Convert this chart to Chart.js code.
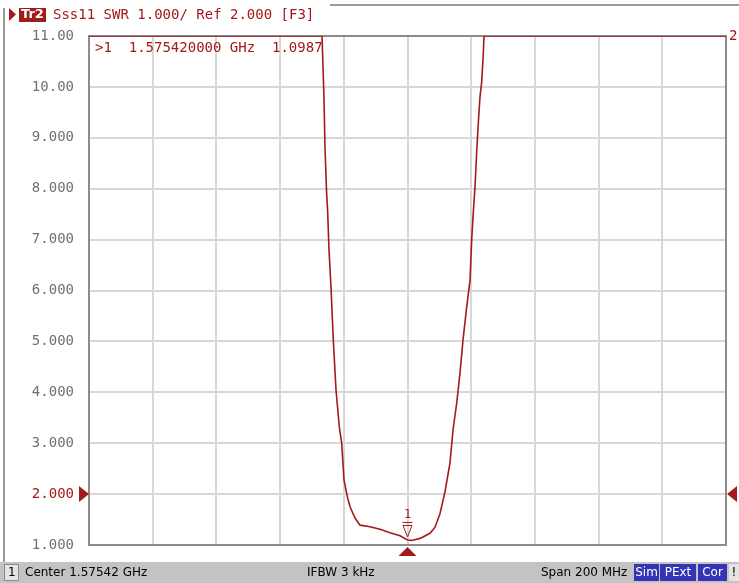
<!DOCTYPE html>
<html><head><meta charset="utf-8">
<script src="https://cdn.jsdelivr.net/npm/chart.js@4/dist/chart.umd.min.js"></script>
<style>html,body{margin:0;padding:0;background:#fff;overflow:hidden}#wrap{width:739px;height:583px;position:relative}</style>
</head><body><div id="wrap"><canvas id="c" width="739" height="583"></canvas></div>
<script>
// ---- data ----
const freqMHz = [1475.42, 1548.58, 1549.20, 1549.51, 1549.99, 1550.36, 1550.77, 1551.40, 1552.12, 1552.97,
  1554.01, 1554.76, 1555.48, 1556.52, 1557.37, 1558.94, 1560.51, 1563.65, 1566.79, 1569.93,
  1573.07, 1575.42, 1576.74, 1579.35, 1582.49, 1584.06, 1585.63, 1587.20, 1588.77, 1589.71,
  1590.87, 1591.91, 1592.85, 1594.01, 1595.05, 1595.57, 1596.09, 1596.62, 1597.15, 1597.65,
  1598.19, 1598.72, 1599.22, 1599.44, 1675.42];
const swr = [11, 11, 9.78, 8.82, 7.97, 7.54, 6.80, 6.07, 5.03, 4.05,
  3.32, 3.00, 2.28, 1.95, 1.75, 1.53, 1.39, 1.36, 1.31, 1.24,
  1.18, 1.0987, 1.09, 1.13, 1.23, 1.35, 1.62, 2.05, 2.62, 3.26,
  3.79, 4.38, 5.03, 5.68, 6.20, 6.99, 7.55, 8.04, 8.73, 9.29,
  9.81, 10.10, 10.66, 11, 11];
const yTickValues = [1, 2, 3, 4, 5, 6, 7, 8, 9, 10, 11];
const yTickLabels = ['1.000', '2.000', '3.000', '4.000', '5.000', '6.000', '7.000', '8.000', '9.000', '10.00', '11.00'];
const centerMHz = 1575.42;
const spanMHz = 200;
const divisions = 10;
const refLevel = 2.0;
const markerFreqMHz = 1575.42;
const markerSWR = 1.0987;
const headerText = 'Sss11 SWR 1.000/ Ref 2.000 [F3]';
const traceName = 'Tr2';
const markerText = '>1  1.575420000 GHz  1.0987';
const statusCenter = 'Center 1.57542 GHz';
const statusIFBW = 'IFBW 3 kHz';
const statusSpan = 'Span 200 MHz';
const statusFlags = ['Sim', 'PExt', 'Cor'];

const RED = '#a31a1a';
const MONO = '"DejaVu Sans Mono", monospace';
const SANS = '"DejaVu Sans", sans-serif';

const points = freqMHz.map((f, i) => ({ x: f - centerMHz, y: swr[i] }));

const decor = {
  id: 'decor',
  beforeDatasetsDraw(chart) {
    const { ctx, chartArea: a } = chart;
    ctx.save();
    ctx.strokeStyle = '#8c8c8c';
    ctx.lineWidth = 2;
    ctx.strokeRect(a.left, a.top, a.right - a.left, a.bottom - a.top);
    ctx.restore();
  },
  afterDraw(chart) {
    const { ctx, chartArea: a } = chart;
    const xs = chart.scales.x, ys = chart.scales.y;
    ctx.save();
    // outer frame lines
    ctx.fillStyle = '#9a9a9a';
    ctx.fillRect(3, 8, 2, 554);
    ctx.fillRect(330, 4, 409, 2);
    // header
    ctx.fillStyle = RED;
    ctx.beginPath(); ctx.moveTo(9, 8); ctx.lineTo(16, 14.5); ctx.lineTo(9, 21); ctx.closePath(); ctx.fill();
    ctx.fillRect(19, 8, 27, 14);
    ctx.font = 'bold 13px ' + SANS;
    ctx.fillStyle = '#fff';
    ctx.textBaseline = 'middle';
    ctx.textAlign = 'left';
    ctx.fillText(traceName, 21, 15);
    ctx.font = '14px ' + MONO;
    ctx.fillStyle = RED;
    ctx.fillText(headerText, 53, 15);
    // marker readout
    ctx.fillText(markerText, 95, 48);
    // trace number at right
    ctx.fillText('2', a.right + 3, a.top);
    // reference-level triangles
    const yr = ys.getPixelForValue(refLevel);
    ctx.beginPath(); ctx.moveTo(a.left - 10, yr - 8); ctx.lineTo(a.left, yr); ctx.lineTo(a.left - 10, yr + 8); ctx.closePath(); ctx.fill();
    ctx.beginPath(); ctx.moveTo(a.right + 11, yr - 8); ctx.lineTo(a.right + 1, yr); ctx.lineTo(a.right + 11, yr + 8); ctx.closePath(); ctx.fill();
    // marker stimulus triangle below axis
    const xm = xs.getPixelForValue(markerFreqMHz - centerMHz);
    ctx.beginPath(); ctx.moveTo(xm - 9, a.bottom + 11); ctx.lineTo(xm, a.bottom + 2); ctx.lineTo(xm + 9, a.bottom + 11); ctx.closePath(); ctx.fill();
    // marker symbol on the trace
    const ym = ys.getPixelForValue(markerSWR);
    ctx.strokeStyle = RED; ctx.lineWidth = 1;
    ctx.beginPath(); ctx.moveTo(xm - 4.5, ym - 14.5); ctx.lineTo(xm + 4.5, ym - 14.5); ctx.lineTo(xm, ym - 3); ctx.closePath(); ctx.stroke();
    ctx.beginPath(); ctx.moveTo(xm - 5, ym - 17.5); ctx.lineTo(xm + 5, ym - 17.5); ctx.stroke();
    ctx.font = '12px ' + MONO; ctx.textAlign = 'center';
    ctx.fillText('1', xm, ym - 25);
    // status bar
    ctx.fillStyle = '#c3c3c3';
    ctx.fillRect(0, 562, 739, 21);
    ctx.fillStyle = '#e4e4e4';
    ctx.fillRect(4, 564, 15, 17);
    ctx.strokeStyle = '#8a8a8a'; ctx.strokeRect(4.5, 564.5, 14, 16);
    ctx.fillStyle = '#000';
    ctx.font = '12px ' + SANS; ctx.textAlign = 'left'; ctx.textBaseline = 'middle';
    ctx.fillText('1', 8, 573);
    ctx.fillText(statusCenter, 25, 573);
    ctx.fillText(statusIFBW, 307, 573);
    ctx.fillText(statusSpan, 541, 573);
    const boxes = [[634, 25], [660, 36], [698, 29]];
    statusFlags.forEach((t, i) => {
      ctx.fillStyle = '#3434b4';
      ctx.fillRect(boxes[i][0], 564, boxes[i][1], 17);
      ctx.fillStyle = '#fff'; ctx.textAlign = 'center';
      ctx.fillText(t, boxes[i][0] + boxes[i][1] / 2, 573);
    });
    ctx.fillStyle = '#e4e4e4'; ctx.fillRect(729, 564, 10, 17);
    ctx.fillStyle = '#000'; ctx.fillText('!', 734, 573);
    ctx.restore();
  }
};

new Chart(document.getElementById('c'), {
  type: 'line',
  data: { datasets: [{ data: points, borderColor: RED, borderWidth: 1.6, pointRadius: 0, tension: 0, fill: false }] },
  options: {
    responsive: false, animation: false, devicePixelRatio: 1,
    layout: { padding: { left: 0, right: 13, top: 36, bottom: 38 } },
    plugins: { legend: { display: false }, tooltip: { enabled: false } },
    scales: {
      x: {
        type: 'linear', min: -spanMHz / 2, max: spanMHz / 2,
        ticks: { display: false, stepSize: spanMHz / divisions },
        grid: { color: '#d8d8d8', lineWidth: 2, drawTicks: false },
        border: { display: false },
        afterFit(s) { s.height = 0; }
      },
      y: {
        min: 1, max: 11,
        afterBuildTicks(s) { s.ticks = yTickValues.map(v => ({ value: v })); },
        ticks: {
          callback: (v) => yTickLabels[yTickValues.indexOf(v)],
          color: (c) => (c.tick && c.tick.value === refLevel) ? RED : '#707070',
          font: { family: 'DejaVu Sans Mono', size: 14 },
          padding: 15
        },
        grid: { color: '#d8d8d8', lineWidth: 2, drawTicks: false },
        border: { display: false },
        afterFit(s) { s.width = 89; }
      }
    }
  },
  plugins: [decor]
});
</script></body></html>
